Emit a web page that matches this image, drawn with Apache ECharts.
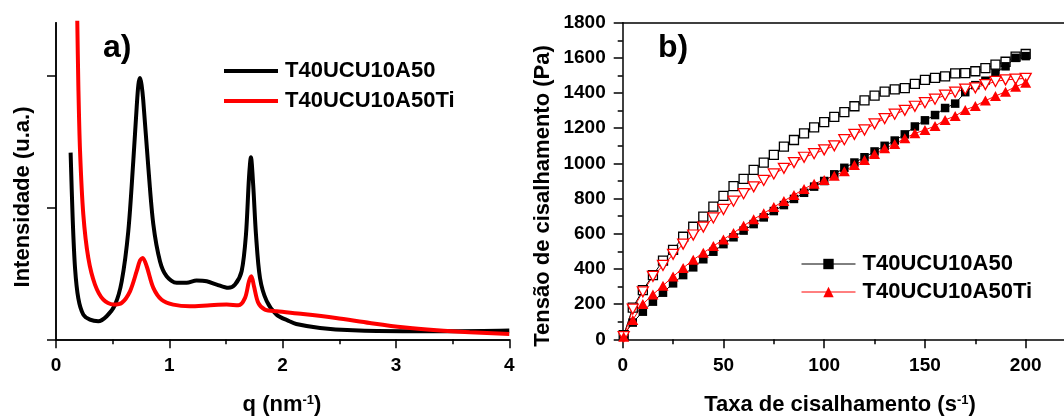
<!DOCTYPE html>
<html><head><meta charset="utf-8">
<script src="https://cdn.jsdelivr.net/npm/echarts@6/dist/echarts.min.js"></script>
<style>html,body{margin:0;padding:0;background:#fff}#c{width:1064px;height:416px}</style>
</head><body><div id="c"></div>
<script>
const FONT = '"Liberation Sans", Arial, sans-serif';

// ---- Panel a) SAXS ----
const qA50 = [0.129,0.147,0.168,0.197,0.241,0.30,0.373,0.447,0.52,0.58,0.638,0.682,0.712,0.727,0.741,0.755,0.77,0.815,0.859,0.918,0.976,1.065,1.153,1.24,1.33,1.418,1.52,1.58,1.638,1.676,1.703,1.72,1.74,1.765,1.80,1.859,1.947,2.06,2.12,2.33,2.62,3.06,3.51,4.0];
const iA50 = [1.415,0.92,0.54,0.31,0.187,0.149,0.137,0.175,0.26,0.44,0.82,1.35,1.76,1.93,1.98,1.93,1.81,1.30,0.87,0.59,0.478,0.428,0.428,0.445,0.44,0.415,0.39,0.415,0.516,0.79,1.225,1.38,1.17,0.79,0.465,0.29,0.187,0.137,0.116,0.086,0.068,0.061,0.061,0.066];
const qA50Ti = [0.170,0.188,0.197,0.212,0.241,0.285,0.344,0.418,0.506,0.58,0.653,0.712,0.741,0.765,0.80,0.859,0.932,1.035,1.18,1.36,1.506,1.61,1.668,1.703,1.724,1.747,1.785,1.844,1.947,2.18,2.47,2.77,3.06,3.36,3.65,4.0];
const iA50Ti = [3.2,2.4,1.93,1.43,0.946,0.617,0.415,0.30,0.263,0.276,0.364,0.516,0.597,0.617,0.554,0.39,0.30,0.263,0.25,0.258,0.263,0.258,0.314,0.44,0.478,0.402,0.276,0.225,0.212,0.192,0.162,0.124,0.091,0.068,0.053,0.040];

// ---- Panel b) rheology ----
const shearRate = [0.5,5,10,15,20,25,30,35,40,45,50,55,60,65,70,75,80,85,90,95,100,105,110,115,120,125,130,135,140,145,150,155,160,165,170,175,180,185,190,195,200];
const tauA50 = [25,95,157,214,265,318,365,409,455,498,541,580,618,655,693,729,763,798,833,868,900,938,975,1005,1035,1068,1100,1130,1165,1210,1245,1275,1315,1340,1405,1445,1470,1512,1552,1600,1610];
const tauA50Open = [24,180,280,365,447,508,583,640,697,754,815,871,912,963,1004,1048,1095,1133,1171,1205,1235,1265,1292,1325,1358,1385,1408,1421,1428,1452,1475,1486,1495,1512,1513,1524,1542,1562,1578,1607,1622];
const tauA50Ti = [15,110,200,255,305,357,405,452,492,530,568,605,645,683,716,752,787,820,855,885,905,930,955,991,1019,1053,1086,1110,1143,1171,1190,1213,1247,1270,1304,1327,1357,1383,1408,1436,1459];
const tauA50TiOpen = [15,172,270,358,420,483,541,593,638,690,738,785,828,867,903,940,972,1005,1035,1055,1077,1100,1135,1165,1190,1225,1255,1280,1302,1325,1345,1365,1388,1405,1422,1430,1448,1466,1475,1479,1484];

const names = ['T40UCU10A50', 'T40UCU10A50Ti'];
const zip = (xs, ys) => xs.map((x, i) => [x, ys[i]]);

const axLine = {lineStyle: {color: '#000', width: 1.5}};
const tickStyle = {color: '#000', width: 1.5};
const lbl = {color: '#000', fontFamily: FONT, fontWeight: 'bold', fontSize: 19, formatter: v => String(v)};

const chart = echarts.init(document.getElementById('c'), null, {renderer: 'canvas'});
chart.setOption({
  animation: false,
  backgroundColor: '#fff',
  grid: [
    {left: 56, top: 22.7, width: 453.3, height: 316.6, containLabel: false, outerBoundsMode: 'none'},
    {left: 622.7, top: 22.7, width: 503.75, height: 316.6, containLabel: false, outerBoundsMode: 'none'}
  ],
  xAxis: [
    {gridIndex: 0, type: 'value', min: 0, max: 4, interval: 1, position: 'bottom',
     axisLine: axLine, axisTick: {length: 9, lineStyle: tickStyle},
     minorTick: {show: true, splitNumber: 2, length: 5, lineStyle: tickStyle},
     axisLabel: Object.assign({margin: 17}, lbl), splitLine: {show: false}},
    {gridIndex: 0, type: 'value', min: 0, max: 4, interval: 1, position: 'top',
     axisLine: axLine, axisTick: {show: false}, axisLabel: {show: false}, splitLine: {show: false}},
    {gridIndex: 1, type: 'value', min: 0, max: 250, interval: 50, position: 'bottom',
     axisLine: axLine, axisTick: {length: 9, lineStyle: tickStyle},
     minorTick: {show: true, splitNumber: 2, length: 5, lineStyle: tickStyle},
     axisLabel: Object.assign({margin: 17, showMaxLabel: false}, lbl), splitLine: {show: false}},
    {gridIndex: 1, type: 'value', min: 0, max: 250, interval: 50, position: 'top',
     axisLine: axLine, axisTick: {show: false}, axisLabel: {show: false}, splitLine: {show: false}}
  ],
  yAxis: [
    {gridIndex: 0, type: 'value', min: 0, max: 2.4, interval: 1, position: 'left',
     axisLine: Object.assign({show: true}, axLine),
     axisTick: {show: true, length: 9, lineStyle: tickStyle, customValues: [0, 1, 2]},
     axisLabel: {show: false}, splitLine: {show: false}},
    {gridIndex: 0, type: 'value', min: 0, max: 2.4, interval: 1, position: 'right',
     axisLine: Object.assign({show: true}, axLine),
     axisTick: {show: true, inside: true, length: 5, lineStyle: tickStyle, customValues: [1, 2]},
     axisLabel: {show: false}, splitLine: {show: false}},
    {gridIndex: 1, type: 'value', min: 0, max: 1800, interval: 200, position: 'left',
     axisLine: Object.assign({show: true}, axLine),
     axisTick: {show: true, length: 9, lineStyle: tickStyle},
     minorTick: {show: true, splitNumber: 2, length: 5, lineStyle: tickStyle},
     axisLabel: Object.assign({margin: 17}, lbl), splitLine: {show: false}}
  ],
  legend: [
    {data: [{name: names[0], icon: 'rect'}, {name: names[1], icon: 'rect'}], orient: 'vertical', left: 224, top: 60, padding: 0,
     itemWidth: 54, itemHeight: 4, itemGap: 8, selectedMode: false,
     textStyle: {fontFamily: FONT, fontWeight: 'bold', fontSize: 22, color: '#000', padding: [0, 0, 0, 2]}},
    {data: [names[0] + ' ', names[1] + ' '], orient: 'vertical', left: 801, top: 253, padding: 0,
     itemWidth: 54, itemHeight: 13, itemGap: 6, selectedMode: false,
     lineStyle: {width: 1},
     formatter: n => n.trim(),
     textStyle: {fontFamily: FONT, fontWeight: 'bold', fontSize: 22, color: '#000', padding: [0, 0, 0, 2]}}
  ],
  series: [
    {name: names[0], type: 'line', xAxisIndex: 0, yAxisIndex: 0, data: zip(qA50, iA50),
     symbol: 'none', smooth: 0.3, lineStyle: {color: '#000', width: 4}, itemStyle: {color: '#000'}},
    {name: names[1], type: 'line', xAxisIndex: 0, yAxisIndex: 0, data: zip(qA50Ti, iA50Ti),
     symbol: 'none', smooth: 0.3, lineStyle: {color: '#ff0000', width: 4}, itemStyle: {color: '#ff0000'}},
    {name: names[0] + ' (volta)', type: 'line', xAxisIndex: 2, yAxisIndex: 2, data: zip(shearRate, tauA50Open),
     symbol: 'rect', symbolSize: 9, lineStyle: {color: '#000', width: 1},
     itemStyle: {color: '#fff', borderColor: '#000', borderWidth: 1.3}},
    {name: names[0] + ' ', type: 'line', xAxisIndex: 2, yAxisIndex: 2, data: zip(shearRate, tauA50),
     symbol: 'rect', symbolSize: 8.5, lineStyle: {color: '#000', width: 1},
     itemStyle: {color: '#000'}},
    {name: names[1] + ' (volta)', type: 'line', xAxisIndex: 2, yAxisIndex: 2, data: zip(shearRate, tauA50TiOpen),
     symbol: 'triangle', symbolRotate: 180, symbolSize: [11, 10], lineStyle: {color: '#ff0000', width: 1},
     itemStyle: {color: '#fff', borderColor: '#ff0000', borderWidth: 1.3}},
    {name: names[1] + ' ', type: 'line', xAxisIndex: 2, yAxisIndex: 2, data: zip(shearRate, tauA50Ti),
     symbol: 'triangle', symbolSize: [11, 10], lineStyle: {color: '#ff0000', width: 1},
     itemStyle: {color: '#ff0000'}}
  ],
  graphic: [
    {type: 'text', x: 103, y: 48, style: {text: 'a)', fill: '#000', font: 'bold 32px ' + FONT, align: 'left', verticalAlign: 'middle'}},
    {type: 'text', x: 658, y: 48, style: {text: 'b)', fill: '#000', font: 'bold 32px ' + FONT, align: 'left', verticalAlign: 'middle'}},
    {type: 'text', x: 23, y: 197, rotation: Math.PI / 2,
     style: {text: 'Intensidade (u.a.)', fill: '#000', font: 'bold 22px ' + FONT, align: 'center', verticalAlign: 'middle'}},
    {type: 'text', x: 543, y: 196, rotation: Math.PI / 2,
     style: {text: 'Tensão de cisalhamento (Pa)', fill: '#000', font: 'bold 22px ' + FONT, align: 'center', verticalAlign: 'middle'}},
    {type: 'text', x: 282, y: 405,
     style: {text: '{n|q (nm}{s|-1}{n|)}', align: 'center', verticalAlign: 'middle',
       rich: {n: {fontFamily: FONT, fontWeight: 'bold', fontSize: 22, fill: '#000'},
              s: {fontFamily: FONT, fontWeight: 'bold', fontSize: 13, fill: '#000', verticalAlign: 'top'}}}},
    {type: 'text', x: 840, y: 405,
     style: {text: '{n|Taxa de cisalhamento (s}{s|-1}{n|)}', align: 'center', verticalAlign: 'middle',
       rich: {n: {fontFamily: FONT, fontWeight: 'bold', fontSize: 22, fill: '#000'},
              s: {fontFamily: FONT, fontWeight: 'bold', fontSize: 13, fill: '#000', verticalAlign: 'top'}}}}
  ]
});
</script></body></html>
